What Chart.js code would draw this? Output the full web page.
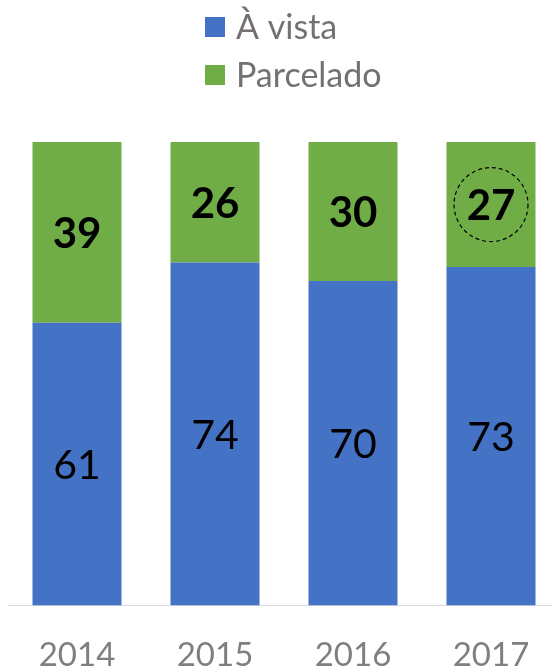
<!DOCTYPE html>
<html>
<head>
<meta charset="utf-8">
<script src="https://cdn.jsdelivr.net/npm/chart.js@4"></script>
<style>
  html, body { margin: 0; background: #fff; overflow: hidden; width: 552px; height: 671px; }
  canvas { display: block; }
</style>
</head>
<body>
<!-- canvas is a little wider than the window: the plot runs off the right edge like the original -->
<canvas id="barChart" width="560" height="671"></canvas>
<script>
const years = ['2014', '2015', '2016', '2017'];
const aVista = [61, 74, 70, 73];
const parcelado = [39, 26, 30, 27];
const seriesNames = ['À vista', 'Parcelado'];
const blue = '#4472C4';
const green = '#70AD47';
const highlightIndex = 3; // 2017 parcelado is circled

// legend drawn by hand so the two items sit one under the other
const stackedLegend = {
    id: 'stackedLegend',
    afterDraw(chart) {
        const ctx = chart.ctx;
        ctx.save();
        ctx.font = '34px Lato';
        ctx.textBaseline = 'middle';
        ctx.textAlign = 'left';
        chart.data.datasets.forEach((ds, i) => {
            const y = 27 + i * 48;
            ctx.fillStyle = ds.backgroundColor;
            ctx.fillRect(205, y - 10, 20, 20);
            ctx.fillStyle = '#767171';
            ctx.fillText(ds.label, 236, y + 1);
        });
        ctx.restore();
    }
};

const valueLabels = {
    id: 'valueLabels',
    afterDatasetsDraw(chart) {
        const ctx = chart.ctx;
        ctx.save();
        ctx.textAlign = 'center';
        ctx.textBaseline = 'middle';
        ctx.fillStyle = '#000';
        chart.data.datasets.forEach((ds, i) => {
            const meta = chart.getDatasetMeta(i);
            ctx.font = (i === 1 ? 'bold 42px' : '41px') + ' Lato';
            meta.data.forEach((bar, j) => {
                const cy = (bar.y + bar.base) / 2;
                ctx.fillText(ds.data[j], bar.x, cy + 2);
                if (i === 1 && j === highlightIndex) {
                    ctx.beginPath();
                    ctx.setLineDash([4, 3]);
                    ctx.lineWidth = 1.2;
                    ctx.strokeStyle = '#000';
                    ctx.arc(bar.x, cy, 37, 0, Math.PI * 2);
                    ctx.stroke();
                    ctx.setLineDash([]);
                }
            });
        });
        ctx.restore();
    }
};

new Chart(document.getElementById('barChart'), {
    type: 'bar',
    data: {
        labels: years,
        datasets: [{
            label: seriesNames[0],
            data: aVista,
            backgroundColor: blue
        }, {
            label: seriesNames[1],
            data: parcelado,
            backgroundColor: green
        }]
    },
    options: {
        responsive: false,
        animation: false,
        datasets: {
            bar: { categoryPercentage: 1, barPercentage: 0.645 }
        },
        layout: { padding: { left: 8, right: 0, top: 142, bottom: -26 } },
        plugins: {
            legend: { display: false },
            tooltip: { enabled: false }
        },
        scales: {
            x: {
                stacked: true,
                grid: { display: false },
                border: { display: true, color: '#D9D9D9', width: 1 },
                ticks: {
                    color: '#7F7F7F',
                    font: { family: 'Lato', size: 33 },
                    padding: 22
                }
            },
            y: {
                stacked: true,
                display: false,
                min: 0,
                max: 100
            }
        }
    },
    plugins: [stackedLegend, valueLabels]
});
</script>
</body>
</html>
